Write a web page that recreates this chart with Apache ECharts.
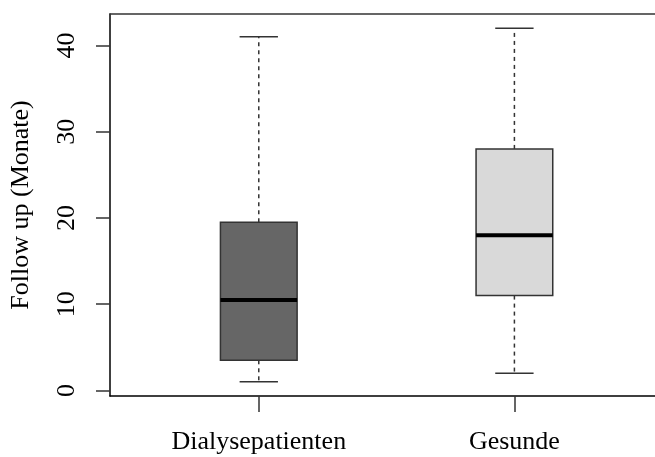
<!DOCTYPE html>
<html>
<head>
<meta charset="utf-8">
<script src="https://cdn.jsdelivr.net/npm/echarts@6/dist/echarts.min.js"></script>
<style>html,body{margin:0;padding:0;background:#fff}#c{width:655px;height:457px}</style>
</head>
<body>
<div id="c"></div>
<script>
const categories = ['Dialysepatienten', 'Gesunde'];
const whiskerLow = [1, 2];
const q1 = [3.5, 11];
const median = [10.5, 18];
const q3 = [19.5, 28];
const whiskerHigh = [41, 42];
const fills = ['#666666', '#d9d9d9'];
const yTicks = [0, 10, 20, 30, 40];
const yTitle = 'Follow up (Monate)';

const FONT = 'Liberation Serif';
const data = categories.map((c, i) => [i + 1, whiskerLow[i], q1[i], median[i], q3[i], whiskerHigh[i]]);
const xPos = categories.map((c, i) => i + 1);

const chart = echarts.init(document.getElementById('c'), null, {renderer: 'canvas'});
chart.setOption({
  animation: false,
  backgroundColor: '#fff',
  grid: {left: 110, top: 14, width: 545, height: 382, containLabel: false},
  xAxis: [{
    type: 'value', min: 0.418, max: 2.55, position: 'bottom',
    splitLine: {show: false},
    axisLine: {show: true, onZero: false, lineStyle: {color: '#000', width: 1.5}},
    axisTick: {show: true, customValues: xPos, length: 16, lineStyle: {color: '#333', width: 1.5}},
    axisLabel: {show: true, customValues: xPos, margin: 33, fontFamily: FONT, fontSize: 26, color: '#000',
      formatter: v => categories[Math.round(v) - 1] || ''}
  }, {
    type: 'value', min: 0.418, max: 2.55, position: 'top',
    splitLine: {show: false},
    axisLine: {show: true, onZero: false, lineStyle: {color: '#333', width: 1.5}},
    axisTick: {show: false}, axisLabel: {show: false}
  }],
  yAxis: {
    type: 'value', min: -0.64, max: 43.64,
    name: yTitle, nameLocation: 'middle', nameGap: 76, nameRotate: 90,
    nameTextStyle: {fontFamily: FONT, fontSize: 26, color: '#000'},
    splitLine: {show: false},
    axisLine: {show: true, onZero: false, lineStyle: {color: '#000', width: 1.5}},
    axisTick: {show: true, customValues: yTicks, length: 14, lineStyle: {color: '#333', width: 1.5}},
    axisLabel: {show: true, customValues: yTicks, rotate: 90, margin: 30, fontFamily: FONT, fontSize: 26, color: '#000'}
  },
  series: [{
    type: 'custom',
    xAxisIndex: 0,
    data: data,
    encode: {x: 0, y: [1, 2, 3, 4, 5]},
    renderItem: function (params, api) {
      const x = api.value(0);
      const pLo = api.coord([x, api.value(1)]);
      const pQ1 = api.coord([x, api.value(2)]);
      const pMed = api.coord([x, api.value(3)]);
      const pQ3 = api.coord([x, api.value(4)]);
      const pHi = api.coord([x, api.value(5)]);
      const bw = api.size([0.3, 0])[0];
      const cw = bw / 2;
      const cx = pMed[0];
      const idx = params.dataIndex;
      const lineCol = '#333';
      return {
        type: 'group',
        children: [
          {type: 'line', shape: {x1: cx, y1: pQ3[1], x2: cx, y2: pHi[1]}, style: {stroke: lineCol, lineWidth: 1.5, lineDash: [4, 4]}},
          {type: 'line', shape: {x1: cx, y1: pQ1[1], x2: cx, y2: pLo[1]}, style: {stroke: lineCol, lineWidth: 1.5, lineDash: [4, 4]}},
          {type: 'line', shape: {x1: cx - cw / 2, y1: pHi[1], x2: cx + cw / 2, y2: pHi[1]}, style: {stroke: lineCol, lineWidth: 1.5}},
          {type: 'line', shape: {x1: cx - cw / 2, y1: pLo[1], x2: cx + cw / 2, y2: pLo[1]}, style: {stroke: lineCol, lineWidth: 1.5}},
          {type: 'rect', shape: {x: cx - bw / 2, y: pQ3[1], width: bw, height: pQ1[1] - pQ3[1]}, style: {fill: fills[idx], stroke: lineCol, lineWidth: 1.5}},
          {type: 'line', shape: {x1: cx - bw / 2, y1: pMed[1], x2: cx + bw / 2, y2: pMed[1]}, style: {stroke: '#000', lineWidth: 4}}
        ]
      };
    }
  }]
});
</script>
</body>
</html>
